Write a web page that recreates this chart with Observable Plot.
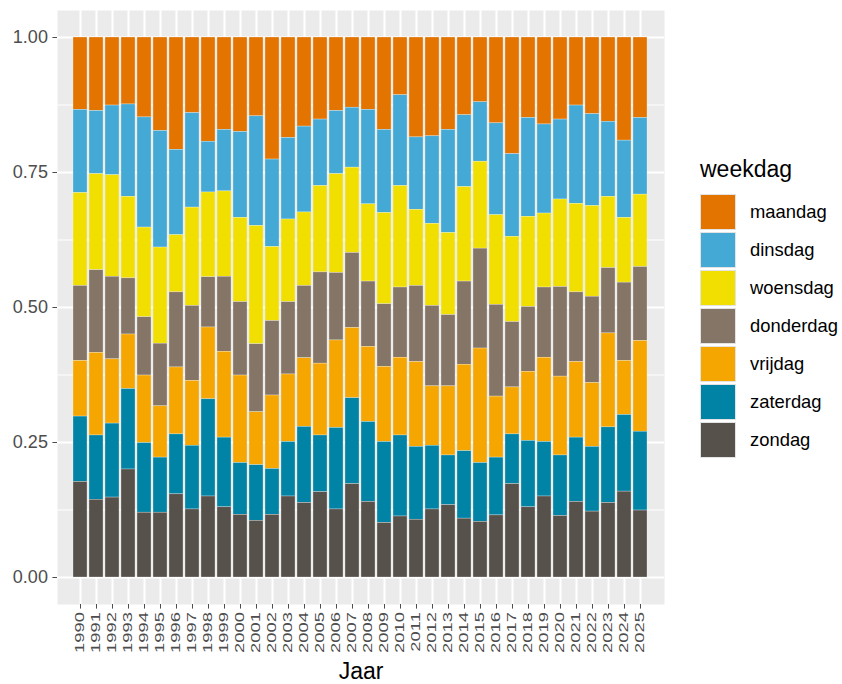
<!DOCTYPE html>
<html><head><meta charset="utf-8">
<script src="https://cdn.jsdelivr.net/npm/d3@7"></script>
<script src="https://cdn.jsdelivr.net/npm/@observablehq/plot@0.6"></script>
<style>
body{margin:0;background:#fff;font-family:"Liberation Sans",Arial,sans-serif;}
#wrap{position:relative;width:842px;height:684px;overflow:hidden;}
#legend{position:absolute;left:700px;top:0;width:142px;height:684px;}
#legend .title{position:absolute;left:0;top:158px;font-size:23px;line-height:23px;color:#000;white-space:nowrap;}
#legend .row{position:absolute;left:0;height:36px;}
#legend .sw{position:absolute;left:0;top:0;width:34px;height:34px;border:1px solid #E3E3E3;}
#legend .lab{position:absolute;left:50px;top:0;font-size:18.4px;line-height:36px;color:#000;white-space:nowrap;}
</style></head><body>
<div id="wrap"><div id="chart"></div><div id="legend"></div></div>
<script>
const years = [1990,1991,1992,1993,1994,1995,1996,1997,1998,1999,2000,2001,2002,2003,2004,2005,2006,2007,2008,2009,2010,2011,2012,2013,2014,2015,2016,2017,2018,2019,2020,2021,2022,2023,2024,2025];
const weekdays = ["maandag","dinsdag","woensdag","donderdag","vrijdag","zaterdag","zondag"];
const colors = ["#E47400","#44A9D4","#F0DF00","#857566","#F5A600","#0083A5","#57514B"];
const yTicks = [0, 0.25, 0.5, 0.75, 1];
const yMinor = [0.125, 0.375, 0.625, 0.875];

const maandag   = [.134,.136,.126,.124,.148,.173,.208,.140,.193,.171,.175,.146,.226,.186,.165,.152,.136,.130,.134,.171,.107,.185,.183,.171,.144,.120,.159,.216,.149,.161,.152,.126,.142,.156,.191,.149];
const dinsdag   = [.154,.117,.129,.171,.204,.216,.158,.175,.094,.114,.159,.203,.162,.151,.159,.123,.117,.111,.175,.154,.168,.134,.162,.191,.133,.110,.170,.153,.183,.165,.148,.182,.170,.139,.143,.142];
const woensdag  = [.172,.178,.188,.151,.166,.178,.106,.182,.157,.158,.156,.219,.137,.153,.136,.160,.183,.158,.143,.169,.188,.141,.152,.152,.175,.161,.166,.158,.167,.137,.162,.164,.168,.132,.120,.134];
const donderdag = [.139,.153,.153,.104,.108,.116,.139,.139,.093,.139,.136,.126,.138,.134,.134,.169,.125,.139,.121,.116,.130,.141,.149,.132,.154,.185,.170,.121,.120,.130,.166,.129,.160,.121,.145,.137];
const vrijdag   = [.103,.153,.119,.101,.125,.095,.124,.120,.133,.159,.162,.098,.136,.125,.127,.133,.162,.130,.139,.139,.144,.157,.110,.128,.160,.212,.113,.087,.128,.156,.146,.140,.118,.174,.100,.168];
const zaterdag  = [.121,.119,.137,.149,.129,.102,.111,.118,.180,.129,.096,.103,.085,.101,.141,.105,.151,.159,.148,.150,.150,.135,.118,.092,.125,.109,.107,.092,.123,.101,.112,.119,.120,.140,.142,.146];
const zondag    = [.177,.144,.148,.200,.120,.120,.154,.126,.150,.130,.116,.105,.116,.150,.138,.158,.126,.173,.140,.101,.113,.107,.126,.134,.109,.103,.115,.173,.130,.150,.114,.140,.122,.138,.159,.124];

const series = {maandag, dinsdag, woensdag, donderdag, vrijdag, zaterdag, zondag};
const data = weekdays.flatMap(day => years.map((year, i) => ({year, day, share: series[day][i]})));

const chart = Plot.plot({
  width: 842, height: 684,
  marginLeft: 57, marginRight: 178, marginTop: 10, marginBottom: 80,
  style: {fontFamily: "Liberation Sans, Arial, sans-serif", background: "white", overflow: "visible"},
  x: {type: "band", domain: years, paddingInner: 0.1, paddingOuter: 0.15, align: 0.5},
  y: {domain: [-0.05, 1.05]},
  color: {domain: weekdays, range: colors},
  marks: [
    Plot.frame({fill: "#EBEBEB", stroke: null}),
    Plot.ruleY(yMinor, {stroke: "white", strokeWidth: 1}),
    Plot.ruleY(yTicks, {stroke: "white", strokeWidth: 2}),
    Plot.ruleX(years, {stroke: "white", strokeWidth: 2}),
    Plot.barY(data, Plot.stackY({order: weekdays.slice().reverse(), offset: "normalize"},
      {x: "year", y: "share", z: "day", fill: "day", stroke: "white", strokeOpacity: 0.55, strokeWidth: 0.5})),
    Plot.axisY({ticks: yTicks, tickFormat: d3.format(".2f"), tickSize: 4.6, tickPadding: 5, fontSize: 18, color: "#4D4D4D", label: null}),
    Plot.axisX({label: null, tickSize: 4.6, tickPadding: 3, tickRotate: -90, tickFormat: d => String(d), fontSize: 18.4, color: "#4D4D4D"}),
    Plot.axisX({ticks: [], tickSize: 0, label: "Jaar", labelAnchor: "center", labelArrow: "none", labelOffset: 74, fontSize: 23, color: "black"})
  ]
});
document.getElementById("chart").appendChild(chart);

// squeeze rotated x tick labels to match the narrow glyphs of the reference
d3.select(chart).selectAll('g[aria-label="x-axis tick label"] text').each(function() {
  const t = this.getAttribute("transform") || "";
  this.setAttribute("transform", t + " scale(1,0.66)");
});

const legend = d3.select("#legend");
legend.append("div").attr("class", "title").text("weekdag");
weekdays.forEach((d, i) => {
  const row = legend.append("div").attr("class", "row").style("top", (193.5 + i * 38.1) + "px");
  row.append("div").attr("class", "sw").style("background", colors[i]);
  row.append("div").attr("class", "lab").text(d);
});
</script>
</body></html>
